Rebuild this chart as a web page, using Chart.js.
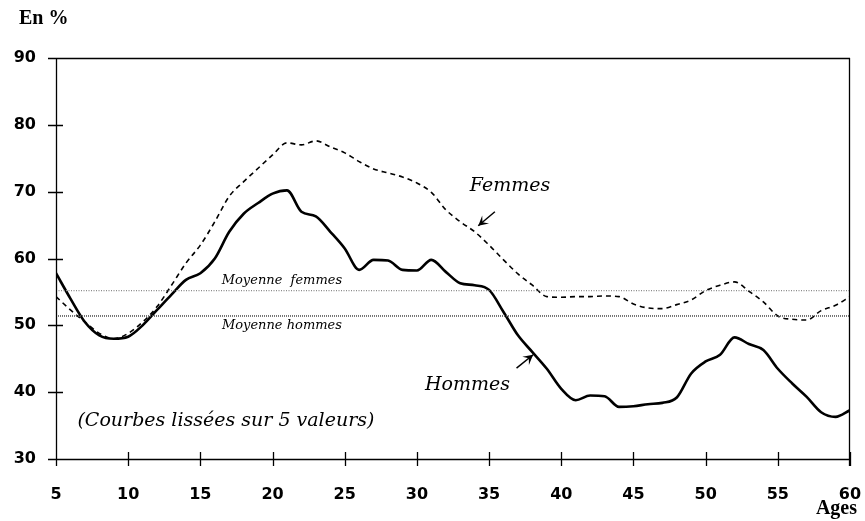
<!DOCTYPE html>
<html><head><meta charset="utf-8">
<script src="https://cdn.jsdelivr.net/npm/chart.js@4"></script>
<style>html,body{margin:0;padding:0;background:#fff}#w{width:865px;height:521px}</style>
</head><body><div id="w"><canvas id="c"></canvas></div>
<script>
const ages = [5,6,7,8,9,10,11,12,13,14,15,16,17,18,19,20,21,22,23,24,25,26,27,28,29,30,31,32,33,34,35,36,37,38,39,40,41,42,43,44,45,46,47,48,49,50,51,52,53,54,55,56,57,58,59,60];
const hommes = [57.8,54.0,50.5,48.5,48.0,48.3,50.0,52.3,54.6,56.8,57.8,60.0,64.0,66.7,68.3,69.7,70.2,67.0,66.3,64.0,61.5,58.3,59.8,59.7,58.3,58.2,59.8,58.0,56.3,56.0,55.3,52.0,48.5,46.0,43.5,40.5,38.8,39.5,39.4,37.8,37.9,38.2,38.4,39.2,42.8,44.6,45.6,48.2,47.2,46.3,43.5,41.3,39.3,37.0,36.3,37.3];
const femmes = [54.3,52.3,50.5,48.8,48.0,48.8,50.5,52.8,56.0,59.3,62.0,65.5,69.3,71.5,73.5,75.5,77.3,77.0,77.6,76.7,75.8,74.5,73.4,72.8,72.2,71.3,69.9,67.3,65.5,64.0,62.0,59.8,57.7,56.0,54.3,54.2,54.3,54.3,54.4,54.3,53.2,52.6,52.5,53.1,53.8,55.2,56.0,56.5,55.1,53.5,51.4,50.9,50.8,52.2,53.0,54.3];
const moyenneFemmes = 55.2;
const moyenneHommes = 51.4;
const xTicks = [5,10,15,20,25,30,35,40,45,50,55,60];
const yTicks = [30,40,50,60,70,80,90];

const pts = (arr) => ages.map((a,i)=>({x:a,y:arr[i]}));
const flat = (v) => [{x:ages[0],y:v},{x:ages[ages.length-1],y:v}];

const decor = {
  id:'decor',
  afterDraw(chart){
    const {ctx, chartArea:a, scales:{x,y}} = chart;
    ctx.save();
    ctx.strokeStyle='#000'; ctx.lineWidth=1.3;
    ctx.beginPath();
    ctx.moveTo(a.left-8, a.top+0.5); ctx.lineTo(a.right, a.top+0.5);
    ctx.moveTo(a.left+0.5, a.top); ctx.lineTo(a.left+0.5, a.bottom+7);
    ctx.moveTo(a.left-8, a.bottom+0.5); ctx.lineTo(a.right, a.bottom+0.5);
    ctx.moveTo(a.right-0.5, a.top); ctx.lineTo(a.right-0.5, a.bottom+7);
    yTicks.forEach(v=>{const py=Math.round(y.getPixelForValue(v))+0.5; ctx.moveTo(a.left-8,py); ctx.lineTo(a.left+7,py);});
    xTicks.forEach(v=>{const px=Math.round(x.getPixelForValue(v))+0.5; ctx.moveTo(px,a.bottom-7); ctx.lineTo(px,a.bottom+7);});
    ctx.stroke();
    ctx.fillStyle='#000';
    ctx.font='bold 20px "Liberation Serif"';
    ctx.textAlign='left'; ctx.textBaseline='middle';
    ctx.fillText('En %', 19, 19);
    ctx.textAlign='right';
    ctx.fillText('Ages', 857, 509);
    ctx.textAlign='center';
    ctx.font='italic 13px "DejaVu Serif"';
    ctx.fillText('Moyenne  femmes', x.getPixelForValue(20.65), y.getPixelForValue(56.7));
    ctx.fillText('Moyenne hommes', x.getPixelForValue(20.65), y.getPixelForValue(49.9));
    ctx.font='italic 19px "DejaVu Serif"';
    ctx.fillText('Femmes', x.getPixelForValue(36.45), y.getPixelForValue(70.9));
    ctx.fillText('Hommes', x.getPixelForValue(33.5), y.getPixelForValue(41.1));
    ctx.fillText('(Courbes lissées sur 5 valeurs)', x.getPixelForValue(16.77), y.getPixelForValue(35.7));
    const arrow=(x1,y1,x2,y2)=>{
      const X1=x.getPixelForValue(x1),Y1=y.getPixelForValue(y1),X2=x.getPixelForValue(x2),Y2=y.getPixelForValue(y2);
      ctx.lineWidth=1.5; ctx.beginPath(); ctx.moveTo(X1,Y1); ctx.lineTo(X2,Y2); ctx.stroke();
      const ang=Math.atan2(Y2-Y1,X2-X1), L=11;
      ctx.beginPath(); ctx.moveTo(X2,Y2);
      ctx.lineTo(X2-L*Math.cos(ang-0.5),Y2-L*Math.sin(ang-0.5));
      ctx.lineTo(X2-L*0.5*Math.cos(ang),Y2-L*0.5*Math.sin(ang));
      ctx.lineTo(X2-L*Math.cos(ang+0.5),Y2-L*Math.sin(ang+0.5));
      ctx.closePath(); ctx.fill();
    };
    arrow(35.4,67.0,34.25,64.9);
    arrow(36.9,43.6,38.05,45.6);
    ctx.restore();
  }
};

new Chart(document.getElementById('c'),{
  type:'line',
  data:{datasets:[
    {label:'Moyenne femmes',data:flat(moyenneFemmes),borderColor:'#8a8a8a',borderWidth:1.2,borderDash:[1,1.5],pointRadius:0,tension:0},
    {label:'Moyenne hommes',data:flat(moyenneHommes),borderColor:'#555',borderWidth:1.6,borderDash:[1,1],pointRadius:0,tension:0},
    {label:'Femmes',data:pts(femmes),borderColor:'#000',borderWidth:1.6,borderDash:[5,4],pointRadius:0,cubicInterpolationMode:'monotone'},
    {label:'Hommes',data:pts(hommes),borderColor:'#000',borderWidth:2.6,pointRadius:0,cubicInterpolationMode:'monotone'}
  ]},
  options:{
    responsive:true,maintainAspectRatio:false,animation:false,
    layout:{padding:{top:58,right:15,left:0,bottom:0}},
    plugins:{legend:{display:false},tooltip:{enabled:false}},
    scales:{
      x:{type:'linear',min:5,max:60,
         afterBuildTicks:(s)=>{s.ticks=xTicks.map(v=>({value:v}));},
         afterFit:(s)=>{s.height=62; s.paddingLeft=0; s.paddingRight=0;},
         grid:{display:false,drawTicks:false},border:{display:false},
         ticks:{padding:26,color:'#000',font:{family:'DejaVu Sans',weight:'bold',size:16},maxRotation:0,autoSkip:false}},
      y:{min:30,max:90,
         afterBuildTicks:(s)=>{s.ticks=yTicks.map(v=>({value:v}));},
         afterFit:(s)=>{s.width=56; s.paddingTop=0; s.paddingBottom=0;},
         grid:{display:false,drawTicks:false},border:{display:false},
         ticks:{padding:20,color:'#000',font:{family:'DejaVu Sans',weight:'bold',size:16}}}
    }
  },
  plugins:[decor]
});
</script></body></html>
